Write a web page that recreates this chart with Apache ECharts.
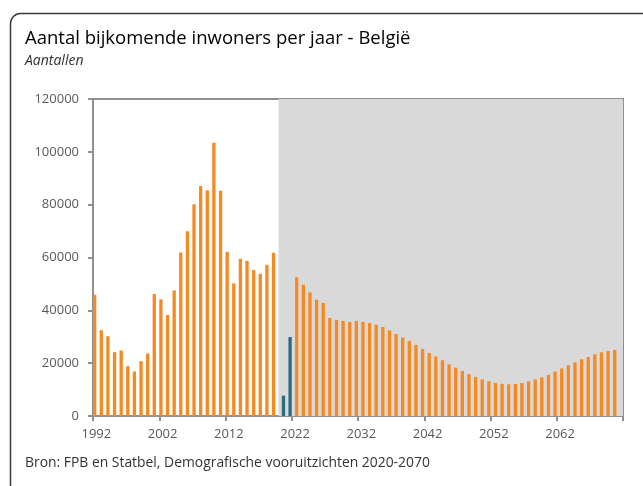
<!DOCTYPE html>
<html>
<head>
<meta charset="utf-8">
<script src="https://cdn.jsdelivr.net/npm/echarts@6/dist/echarts.min.js"></script>
<style>
html,body{margin:0;padding:0;background:#fff;}
#chart{width:643px;height:486px;}
</style>
</head>
<body>
<div id="chart"></div>
<script>
// Categories: years 1992-2070 (plus one empty trailing slot as in the original axis)
const firstYear = 1992;
const lastYear = 2071;
const years = [];
for (let y = firstYear; y <= lastYear; y++) years.push(String(y));

// Observed 1992-2019
const historical = [45900, 32450, 30190, 24150, 24780, 18870, 16860, 20750, 23650, 46160,
  44150, 38240, 47550, 61890, 69940, 80130, 87040, 85410, 103400, 85280,
  62140, 50190, 59500, 58740, 55220, 53840, 57230, 61760];
// 2020-2021 (highlighted)
const recent = [7700, 29900];
// Projection 2022-2070
const projection = [52500, 49700, 46800, 44000, 42800, 37100, 36400, 36000, 35600, 36000,
  35600, 35200, 34500, 33700, 32400, 31050, 29700, 28400, 26900, 25400,
  23850, 22500, 21100, 19600, 18300, 17040, 15850, 14770, 13880, 13150,
  12500, 12150, 12000, 12150, 12500, 13100, 13850, 14650, 15600, 16800,
  18000, 19200, 20300, 21450, 22350, 23350, 24100, 24600, 25000];
const yTicks = [0, 20000, 40000, 60000, 80000, 100000, 120000];
const shadeFrom = '2020';

const ORANGE = '#F58A22';
const BLUE = '#2C6A80';
const SHADE = '#d9d9d9';
const GREY_AX = '#8f8f8f';
const TXT = '#595959';
const FONT = 'Open Sans';

const yMax = yTicks[yTicks.length - 1];
const yStep = yTicks[1] - yTicks[0];

const histData = years.map((y, i) => i < historical.length ? historical[i] : null);
const projData = years.map((y, i) => {
  const k = i - historical.length;
  if (k >= 0 && k < recent.length) return { value: recent[k], itemStyle: { color: BLUE } };
  const p = k - recent.length;
  if (p >= 0 && p < projection.length) return projection[p];
  return null;
});
// Shaded projection period: from the start of the 2020 band to the end of the axis,
// expressed on a hidden linear axis that spans the category bands (0 .. number of categories)
const shadeStartIdx = years.indexOf(shadeFrom);
const shadeData = [[shadeStartIdx, yMax], [years.length, yMax]];

const chart = echarts.init(document.getElementById('chart'), null, { renderer: 'canvas' });
chart.setOption({
  animation: false,
  backgroundColor: '#fff',
  textStyle: { fontFamily: FONT },
  title: [
    { text: 'Aantal bijkomende inwoners per jaar - België', left: 20, top: 24,
      textStyle: { fontFamily: FONT, fontSize: 18.5, fontWeight: 'normal', color: '#000' } },
    { text: 'Aantallen', left: 20, top: 49,
      textStyle: { fontFamily: FONT, fontSize: 14, fontStyle: 'italic', fontWeight: 'normal', color: '#333' } },
    { text: 'Bron: FPB en Statbel, Demografische vooruitzichten 2020-2070', left: 20, top: 451,
      textStyle: { fontFamily: FONT, fontSize: 13.9, fontWeight: 'normal', color: '#333' } }
  ],
  graphic: [
    { type: 'rect', z: 100, silent: true,
      shape: { x: 10.5, y: 13.5, width: 700, height: 600, r: 10 },
      style: { fill: null, stroke: '#3a3a3a', lineWidth: 1.5 } }
  ],
  grid: {
    left: 93, right: 20, top: 99, bottom: 70,
    show: true, borderColor: GREY_AX, borderWidth: 2, backgroundColor: 'transparent'
  },
  xAxis: [
    {
      type: 'category', data: years, boundaryGap: true,
      axisLine: { show: true, lineStyle: { color: GREY_AX, width: 2 } },
      axisTick: { show: true, interval: (i) => i % 10 === 0, length: 5, lineStyle: { color: GREY_AX, width: 2 } },
      axisLabel: { interval: (i) => i % 10 === 0, color: TXT, fontSize: 13, fontFamily: FONT, margin: 12 },
      splitLine: { show: false }
    },
    {
      type: 'value', min: 0, max: years.length, show: false, position: 'bottom'
    }
  ],
  yAxis: {
    type: 'value', min: 0, max: yMax, interval: yStep,
    axisLine: { show: true, lineStyle: { color: GREY_AX, width: 2 } },
    axisTick: { show: true, length: 5, lineStyle: { color: GREY_AX, width: 2 } },
    axisLabel: { color: TXT, fontSize: 13, fontFamily: FONT, margin: 14, formatter: (v) => String(v) },
    splitLine: { show: false }
  },
  series: [
    { type: 'line', name: 'shade', xAxisIndex: 1, data: shadeData, z: 1, silent: true,
      symbol: 'none', lineStyle: { width: 0, opacity: 0 },
      areaStyle: { color: SHADE, opacity: 1, origin: 'start' } },
    { type: 'bar', name: 'hist', xAxisIndex: 0, data: histData, barGap: '0%', barCategoryGap: '0%', z: 2,
      itemStyle: { color: ORANGE } },
    { type: 'bar', name: 'proj', xAxisIndex: 0, data: projData, barGap: '0%', barCategoryGap: '0%', z: 2,
      itemStyle: { color: ORANGE } }
  ]
});
</script>
</body>
</html>
